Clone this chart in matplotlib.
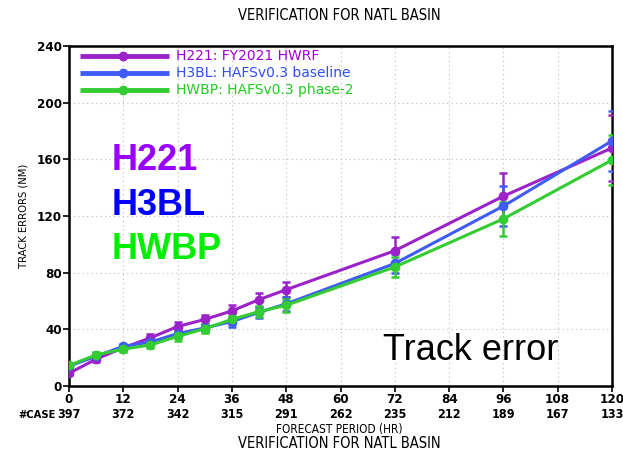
import matplotlib
matplotlib.use("Agg")
import matplotlib.pyplot as plt
import numpy as np

# forecast hours and track errors (NM)
hours = [0, 6, 12, 18, 24, 30, 36, 42, 48, 72, 96, 120]
h221 = [9, 19, 27, 34, 42, 47, 53, 61, 68, 95.5, 134, 168]
h3bl = [14, 21, 28, 31, 37, 41, 45.5, 52, 58, 86.5, 127, 173]
hwbp = [14.5, 22, 26, 29, 35, 40.5, 47, 52.5, 57, 84, 118, 159.5]
h221_err = [1.5, 2, 2, 2.5, 3, 3, 4, 5, 5.5, 10, 16, 23]
h3bl_err = [1.5, 2, 2, 2.5, 3, 3, 3.5, 4, 5, 7, 14, 21]
hwbp_err = [1.5, 2, 2, 2.5, 3, 3, 3.5, 4, 4.5, 7, 12, 17.5]

case_hours = [0, 12, 24, 36, 48, 60, 72, 84, 96, 108, 120]
cases = [397, 372, 342, 315, 291, 262, 235, 212, 189, 167, 133]

labels = ["H221: FY2021 HWRF", "H3BL: HAFSv0.3 baseline", "HWBP: HAFSv0.3 phase-2"]
line_colors = ["#9b22c9", "#3f5cf5", "#33cc33"]
text_colors = ["#a000d8", "#2f4ff5", "#22cc22"]
big_names = ["H221", "H3BL", "HWBP"]
big_colors = ["#9a00ff", "#0000ff", "#00ee00"]

COND = dict(family="DejaVu Sans", fontstretch="condensed")

fig = plt.figure(figsize=(6.23, 4.5), dpi=100)
ax = fig.add_axes([0.1108, 0.1422, 0.8715, 0.7556])

series = [h221, h3bl, hwbp]
errs = [h221_err, h3bl_err, hwbp_err]
for vals, err, col in zip(series, errs, line_colors):
    ax.errorbar(hours, vals, yerr=err, color=col, lw=2.2, marker="o", ms=6,
                capsize=3, elinewidth=1.8, capthick=1.8, zorder=3)

ax.set_xlim(0, 120)
ax.set_ylim(0, 240)
ax.set_xticks(case_hours)
ax.set_yticks(np.arange(0, 241, 40))
ax.grid(True, linestyle=(0, (1, 3)), color="#bbbbbb", lw=0.8)
for s in ax.spines.values():
    s.set_linewidth(1.8)
ax.tick_params(axis="both", labelsize=9.5, width=1.2, length=4, pad=1)
for t in ax.get_xticklabels() + ax.get_yticklabels():
    t.set_fontweight("bold")
    t.set_fontstretch("condensed")
ax.set_ylabel("TRACK ERRORS (NM)", fontsize=8, labelpad=6, **COND)

# legend drawn inside the axes at top-left
for i, (lab, lc, tc) in enumerate(zip(labels, line_colors, text_colors)):
    yy = 0.97 - i * 0.049
    ax.plot([0.02, 0.185], [yy, yy], transform=ax.transAxes, color=lc, lw=3.5,
            solid_capstyle="butt", clip_on=False, zorder=4)
    ax.plot([0.1], [yy], transform=ax.transAxes, color=lc, marker="o", ms=6,
            zorder=4)
    ax.text(0.197, yy, lab, transform=ax.transAxes, color=tc, fontsize=10,
            va="center", ha="left")

for i, (nm, c) in enumerate(zip(big_names, big_colors)):
    ax.text(0.078, 0.662 - i * 0.13, nm, transform=ax.transAxes, color=c,
            fontsize=26, fontweight="bold", va="center", ha="left",
            family="Liberation Sans")

ax.text(0.578, 0.105, "Track error", transform=ax.transAxes, fontsize=26,
        family="Liberation Sans", va="center", ha="left")

# case counts row
for h, n in zip(case_hours, cases):
    ax.text(h, -0.085, str(n), transform=ax.get_xaxis_transform(),
            ha="center", va="center", fontsize=9, fontweight="bold", **COND)
fig.text(0.03, 1 - 415 / 450, "#CASE", fontsize=8, fontweight="bold",
         va="center", ha="left", **COND)

fig.text(0.545, 1 - 430 / 450, "FORECAST PERIOD (HR)", fontsize=8.5,
         ha="center", va="center", **COND)
fig.text(0.545, 1 - 443 / 450, "VERIFICATION FOR NATL BASIN", fontsize=10.5,
         ha="center", va="center", **COND)
fig.text(0.545, 1 - 15 / 450, "VERIFICATION FOR NATL BASIN", fontsize=10.5,
         ha="center", va="center", **COND)

fig.savefig("out.png", dpi=100)
